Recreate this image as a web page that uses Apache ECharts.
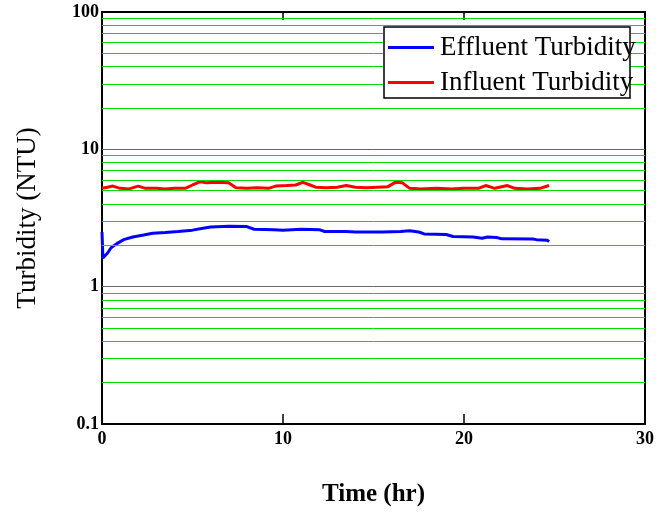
<!doctype html>
<html lang="en">
<head>
    <meta charset="UTF-8">
    <title>Turbidity</title>
    <script src="https://cdn.jsdelivr.net/npm/echarts@6/dist/echarts.min.js"></script>
    <style>
        html, body { margin: 0; padding: 0; background: #fff; }
        #chart { width: 660px; height: 513px; }
    </style>
</head>
<body>
<div id="chart"></div>
<script>
    // time in hours, turbidity in NTU
    const influentTime = [0, 0.3, 0.6, 1.0, 1.5, 2.0, 2.4, 3.0, 3.5, 4.0, 4.6, 5.0, 5.4, 5.8, 6.3, 7.0, 7.4, 8.0, 8.6, 9.2,
        9.6, 10.2, 10.7, 11.1, 11.5, 11.8, 12.4, 13.0, 13.5, 14.0, 14.6, 15.2, 15.8, 16.2, 16.6, 17.0, 17.6, 18.5, 19.3,
        20.0, 20.8, 21.2, 21.7, 22.4, 22.8, 23.5, 24.2, 24.7];
    const influentNTU = [5.2, 5.3, 5.4, 5.2, 5.15, 5.4, 5.2, 5.2, 5.15, 5.2, 5.2, 5.5, 5.8, 5.7, 5.75, 5.7, 5.25, 5.2, 5.25, 5.2,
        5.4, 5.45, 5.5, 5.75, 5.5, 5.3, 5.25, 5.3, 5.45, 5.3, 5.25, 5.3, 5.35, 5.75, 5.7, 5.2, 5.15, 5.2, 5.15,
        5.2, 5.2, 5.45, 5.2, 5.45, 5.2, 5.15, 5.2, 5.45];

    const effluentTime = [0, 0.05, 0.15, 0.3, 0.5, 0.8, 1.2, 1.7, 2.3, 2.8, 3.5, 4.2, 5.0, 5.5, 6.0, 7.0, 8.0, 8.4, 9.5, 10.0,
        11.0, 12.0, 12.3, 13.5, 14.0, 15.5, 16.5, 17.0, 17.5, 17.8, 19.0, 19.4, 20.5, 21.0, 21.3, 21.8, 22.1, 23.8, 24.0,
        24.6, 24.7];
    const effluentNTU = [2.5, 1.62, 1.6, 1.75, 1.92, 2.05, 2.2, 2.3, 2.38, 2.45, 2.48, 2.52, 2.58, 2.65, 2.72, 2.75, 2.74, 2.62, 2.6, 2.58,
        2.62, 2.6, 2.52, 2.52, 2.5, 2.5, 2.52, 2.55, 2.5, 2.42, 2.4, 2.32, 2.3, 2.25, 2.3, 2.28, 2.23, 2.22, 2.2,
        2.18, 2.13];

    const yTicks = [0.1, 1, 10, 100];
    const xTicks = [0, 10, 20, 30];

    // grid lines: dark at inner decades, green at 2..9 of every decade
    const majorLines = yTicks.slice(1, -1).map(v => ({ yAxis: v }));
    const minorLines = [];
    yTicks.slice(0, -1).forEach(base => {
        for (let k = 2; k <= 9; k++) {
            minorLines.push({ yAxis: +(base * k).toPrecision(3) });
        }
    });

    const pairs = (xs, ys) => xs.map((x, i) => [x, ys[i]]);
    const serif = 'Liberation Serif';

    const chart = echarts.init(document.getElementById('chart'));
    chart.setOption({
        animation: false,
        grid: {
            left: 102, right: 15, top: 12, bottom: 89,
            show: true, borderColor: '#000', borderWidth: 2
        },
        legend: {
            orient: 'vertical',
            left: 383, top: 29,
            itemWidth: 46, itemHeight: 3,
            itemGap: 8,
            icon: 'rect',
            z: 20,
            textStyle: { fontFamily: serif, fontSize: 27, color: '#000', padding: [0, 0, 0, 1] }
        },
        graphic: [{
            type: 'rect',
            z: 10,
            shape: { x: 384, y: 27, width: 246, height: 71 },
            style: { fill: '#fff', stroke: '#000', lineWidth: 1.5 }
        }],
        xAxis: [{
            type: 'value',
            min: xTicks[0], max: xTicks[xTicks.length - 1], interval: 10,
            name: 'Time (hr)',
            nameLocation: 'middle',
            nameGap: 58,
            nameTextStyle: { fontFamily: serif, fontSize: 25, fontWeight: 'bold', color: '#000' },
            axisLine: { show: false },
            axisTick: { inside: true, length: 10, lineStyle: { color: '#000', width: 1.5 } },
            axisLabel: { fontFamily: serif, fontSize: 18, fontWeight: 'bold', color: '#000', margin: 6 },
            splitLine: { show: false }
        }, {
            type: 'value',
            position: 'top',
            min: xTicks[0], max: xTicks[xTicks.length - 1], interval: 10,
            axisLine: { show: false },
            axisTick: { inside: true, length: 8, lineStyle: { color: '#000', width: 1.5 } },
            axisLabel: { show: false },
            splitLine: { show: false }
        }],
        yAxis: {
            type: 'log',
            logBase: 10,
            min: yTicks[0], max: yTicks[yTicks.length - 1],
            name: 'Turbidity (NTU)',
            nameLocation: 'middle',
            nameGap: 61,
            nameTextStyle: { fontFamily: serif, fontSize: 27, color: '#000' },
            axisLine: { show: false },
            axisTick: { show: false },
            axisLabel: {
                fontFamily: serif, fontSize: 18, fontWeight: 'bold', color: '#000', margin: 3,
                formatter: v => String(+v.toPrecision(3))
            },
            splitLine: { show: false },
            minorSplitLine: { show: false }
        },
        series: [{
            name: 'Effluent Turbidity',
            type: 'line',
            data: pairs(effluentTime, effluentNTU),
            showSymbol: false,
            color: '#0000ff',
            lineStyle: { width: 3 },
            markLine: {
                silent: true,
                symbol: 'none',
                label: { show: false },
                lineStyle: { color: '#00dd00', width: 1, type: 'solid' },
                data: minorLines
            },
            z: 3
        }, {
            name: 'Influent Turbidity',
            type: 'line',
            data: pairs(influentTime, influentNTU),
            showSymbol: false,
            color: '#ff0000',
            lineStyle: { width: 3 },
            markLine: {
                silent: true,
                symbol: 'none',
                label: { show: false },
                lineStyle: { color: '#666', width: 1, type: 'solid' },
                data: majorLines
            },
            z: 3
        }]
    });
</script>
</body>
</html>
